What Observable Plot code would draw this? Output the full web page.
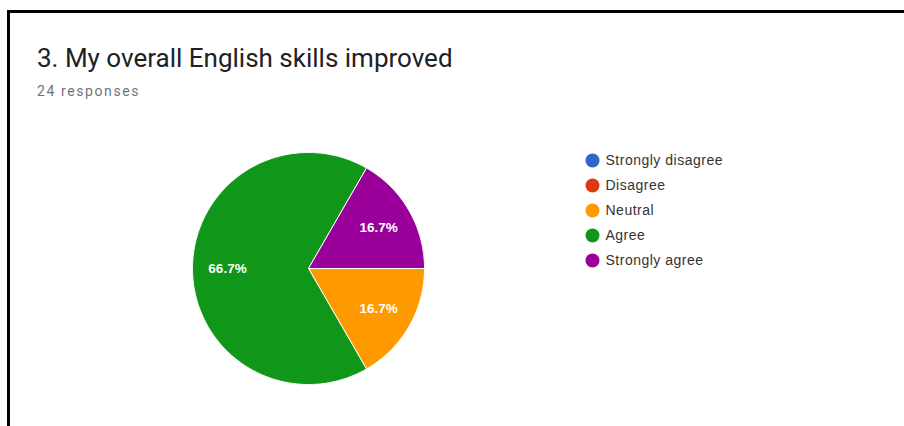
<!DOCTYPE html>
<html>
<head>
<meta charset="utf-8">
<script src="https://cdn.jsdelivr.net/npm/d3@7"></script>
<script src="https://cdn.jsdelivr.net/npm/@observablehq/plot@0.6"></script>
<style>
  html, body { margin: 0; padding: 0; background: #fff; }
  #wrap { position: relative; width: 904px; height: 426px; overflow: hidden; background: #fff; }
  #chart { position: absolute; left: 0; top: 0; }
  .bt { position: absolute; left: 7px; top: 10px; width: 897px; height: 3px; background: #000; }
  .bl { position: absolute; left: 7px; top: 10px; width: 3px; height: 416px; background: #000; }
  #title { position: absolute; left: 37px; top: 43px; font-family: Roboto, sans-serif; font-size: 26px; color: #202124; white-space: nowrap; }
  #sub { position: absolute; left: 37px; top: 83px; font-family: Roboto, sans-serif; font-size: 14px; letter-spacing: 1.6px; color: #70757a; white-space: nowrap; }
  #chart text.legend { letter-spacing: 0.5px; }
</style>
</head>
<body>
<div id="wrap">
  <div id="chart"></div>
  <div class="bt"></div>
  <div class="bl"></div>
  <div id="title">3. My overall English skills improved</div>
  <div id="sub">24 responses</div>
</div>
<script>
// Data
const categories = ["Strongly disagree", "Disagree", "Neutral", "Agree", "Strongly agree"];
const counts = [0, 0, 4, 16, 4];
const colors = ["#3366cc", "#dc3912", "#ff9900", "#109618", "#990099"];

// Layout constants
const W = 904, H = 426;
const cx = 308, cy = 268, R = 116, labelR = 81;
const legendX = 592, legendY0 = 160, legendStep = 25;

const data = categories.map((c, i) => ({category: c, value: counts[i], index: i}));
const total = d3.sum(counts);
const arcs = d3.pie().value(d => d.value).sort(null)
  .startAngle(Math.PI / 2).endAngle(Math.PI / 2 + 2 * Math.PI)(data);

// Sector outlines (angle measured clockwise from 12 o'clock)
const sectorPts = [];
for (const a of arcs) {
  if (a.data.value <= 0) continue;
  const n = Math.max(2, Math.ceil((a.endAngle - a.startAngle) / 0.01));
  sectorPts.push({category: a.data.category, px: 0, py: 0});
  for (let k = 0; k <= n; k++) {
    const t = a.startAngle + (a.endAngle - a.startAngle) * k / n;
    sectorPts.push({category: a.data.category, px: Math.sin(t), py: -Math.cos(t)});
  }
  sectorPts.push({category: a.data.category, px: 0, py: 0});
}
const labels = arcs.filter(a => a.data.value > 0).map(a => {
  const m = (a.startAngle + a.endAngle) / 2;
  return {category: a.data.category, px: Math.sin(m) * labelR / R, py: -Math.cos(m) * labelR / R,
          text: (a.data.value / total * 100).toFixed(1) + "%"};
});

const X = v => cx + v * R;
const Y = v => cy + v * R;

const chart = Plot.plot({
  width: W, height: H,
  margin: 0,
  x: {domain: [0, W], range: [0, W], axis: null},
  y: {domain: [0, H], range: [0, H], axis: null},
  color: {domain: categories, range: colors},
  style: {background: "transparent"},
  marks: [
    Plot.line(sectorPts, {
      x: d => X(d.px), y: d => Y(d.py), z: "category",
      fill: "category", stroke: "white", strokeWidth: 1, curve: "linear"
    }),
    Plot.text(labels, {
      x: d => X(d.px), y: d => Y(d.py), text: "text",
      fill: "white", fontSize: 13.5, fontWeight: "bold", fontFamily: "Liberation Sans, Arial, sans-serif"
    }),
    Plot.dot(data, {
      x: () => legendX, y: d => legendY0 + d.index * legendStep,
      r: 7, fill: "category", stroke: null
    }),
    Plot.text(data, {
      x: () => legendX + 13, y: d => legendY0 + d.index * legendStep,
      text: "category", textAnchor: "start", fill: "#333",
      fontSize: 14, fontFamily: "Liberation Sans, Arial, sans-serif",
      className: "legend"
    })
  ]
});
chart.querySelectorAll("g text").forEach(t => { if (/[a-z]/i.test(t.textContent)) t.style.letterSpacing = "0.5px"; });
document.getElementById("chart").appendChild(chart);
</script>
</body>
</html>
